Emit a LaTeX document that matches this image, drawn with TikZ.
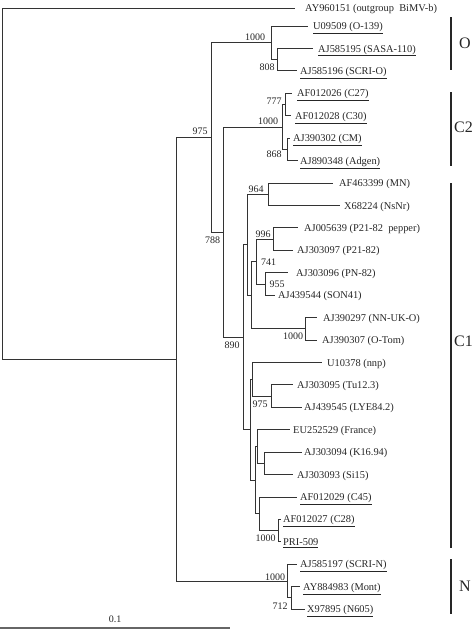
\documentclass[tikz,border=0pt]{standalone}
\usepackage{fontspec}
\setmainfont{Liberation Serif}
\begin{document}
\begin{tikzpicture}[x=1pt,y=-1pt,
  br/.style={draw=black!80,line width=0.8pt},
  lf/.style={anchor=base west,inner sep=0pt,font=\fontsize{10.4}{12}\selectfont,text=black!85},
  bs/.style={inner sep=0pt,font=\fontsize{10}{12}\selectfont,text=black!85},
  cl/.style={inner sep=0pt,font=\fontsize{16}{19}\selectfont,text=black!85},
  cbar/.style={draw=black!85,line width=1.6pt},
  sbar/.style={draw=black!60,line width=1.5pt}]
\useasboundingbox (0,0) rectangle (474,629);
% internal nodes
\coordinate (r0) at (2,183.6);
\coordinate (ing) at (176,359.2);
\coordinate (n975) at (211,137.4);
\coordinate (nO) at (271,42.8);
\coordinate (n808) at (277,59.6);
\coordinate (n788) at (223,232);
\coordinate (nC2) at (282,126.9);
\coordinate (n777) at (285,104.5);
\coordinate (n868) at (287,149.3);
\coordinate (n890) at (243,337.2);
\coordinate (na) at (247,244.6);
\coordinate (n964) at (268,194.2);
\coordinate (nb) at (251,295);
\coordinate (n741) at (256,261.4);
\coordinate (n996) at (273,239);
\coordinate (n955) at (265,283.9);
\coordinate (nT) at (305,328.7);
\coordinate (nd) at (250,429.7);
\coordinate (ne) at (252,379.2);
\coordinate (n975b) at (271,396);
\coordinate (nh) at (255,480.2);
\coordinate (nf) at (257,446.6);
\coordinate (nK) at (264,463.3);
\coordinate (ng) at (259,513.7);
\coordinate (nP) at (278,530.55);
\coordinate (nN) at (287,581);
\coordinate (n712) at (291,597.8);
% tips
\coordinate (t0) at (295,8);
\coordinate (t1) at (308,26);
\coordinate (t2) at (313,48.4);
\coordinate (t3) at (297,70.8);
\coordinate (t4) at (292,93.3);
\coordinate (t5) at (291,115.7);
\coordinate (t6) at (290,138.1);
\coordinate (t7) at (298,160.5);
\coordinate (t8) at (333,183);
\coordinate (t9) at (340,205.4);
\coordinate (t10) at (298,227.8);
\coordinate (t11) at (293,250.2);
\coordinate (t12) at (288,272.7);
\coordinate (t13) at (275,295.1);
\coordinate (t14) at (317,317.5);
\coordinate (t15) at (317,339.9);
\coordinate (t16) at (322,362.4);
\coordinate (t17) at (293,384.8);
\coordinate (t18) at (302,407.2);
\coordinate (t19) at (290,429.6);
\coordinate (t20) at (302,452.1);
\coordinate (t21) at (293,474.5);
\coordinate (t22) at (297,496.9);
\coordinate (t23) at (281,519.3);
\coordinate (t24) at (281,541.8);
\coordinate (t25) at (297,564.2);
\coordinate (t26) at (300,586.6);
\coordinate (t27) at (305,609);
% branches
\draw[br] (r0) |- (t0); \draw[br] (r0) |- (ing);
\draw[br] (ing) |- (n975); \draw[br] (ing) |- (nN);
\draw[br] (n975) |- (nO); \draw[br] (n975) |- (n788);
\draw[br] (nO) |- (t1); \draw[br] (nO) |- (n808);
\draw[br] (n808) |- (t2); \draw[br] (n808) |- (t3);
\draw[br] (n788) |- (nC2); \draw[br] (n788) |- (n890);
\draw[br] (nC2) |- (n777); \draw[br] (nC2) |- (n868);
\draw[br] (n777) |- (t4); \draw[br] (n777) |- (t5);
\draw[br] (n868) |- (t6); \draw[br] (n868) |- (t7);
\draw[br] (n890) |- (na); \draw[br] (n890) |- (nd);
\draw[br] (na) |- (n964); \draw[br] (na) |- (nb);
\draw[br] (n964) |- (t8); \draw[br] (n964) |- (t9);
\draw[br] (nb) |- (n741); \draw[br] (nb) |- (nT);
\draw[br] (n741) |- (n996); \draw[br] (n741) |- (n955);
\draw[br] (n996) |- (t10); \draw[br] (n996) |- (t11);
\draw[br] (n955) |- (t12); \draw[br] (n955) |- (t13);
\draw[br] (nT) |- (t14); \draw[br] (nT) |- (t15);
\draw[br] (nd) |- (ne); \draw[br] (nd) |- (nh);
\draw[br] (ne) |- (t16); \draw[br] (ne) |- (n975b);
\draw[br] (n975b) |- (t17); \draw[br] (n975b) |- (t18);
\draw[br] (nh) |- (nf); \draw[br] (nh) |- (ng);
\draw[br] (nf) |- (t19); \draw[br] (nf) |- (nK);
\draw[br] (nK) |- (t20); \draw[br] (nK) |- (t21);
\draw[br] (ng) |- (t22); \draw[br] (ng) |- (nP);
\draw[br] (nP) |- (t23); \draw[br] (nP) |- (t24);
\draw[br] (nN) |- (t25); \draw[br] (nN) |- (n712);
\draw[br] (n712) |- (t26); \draw[br] (n712) |- (t27);
% leaf labels
\node[lf] (L0) at (305,11.6) {AY960151 (outgroup\hspace{0.5em}BiMV-b)};
\node[lf] (L1) at (313,29.6) {\underline{U09509 (O-139)}};
\node[lf] (L2) at (318,52) {\underline{AJ585195 (SASA-110)}};
\node[lf] (L3) at (300,74.4) {\underline{AJ585196 (SCRI-O)}};
\node[lf] (L4) at (297,96.9) {\underline{AF012026 (C27)}};
\node[lf] (L5) at (295,119.3) {\underline{AF012028 (C30)}};
\node[lf] (L6) at (293,141.7) {\underline{AJ390302 (CM)}};
\node[lf] (L7) at (300,164.1) {\underline{AJ890348 (Adgen)}};
\node[lf] (L8) at (339,186.6) {AF463399 (MN)};
\node[lf] (L9) at (344,209) {X68224 (NsNr)};
\node[lf] (L10) at (304,231.4) {AJ005639 (P21-82\hspace{0.5em}pepper)};
\node[lf] (L11) at (297,253.8) {AJ303097 (P21-82)};
\node[lf] (L12) at (296,276.3) {AJ303096 (PN-82)};
\node[lf] (L13) at (278,298.7) {AJ439544 (SON41)};
\node[lf] (L14) at (323,321.1) {AJ390297 (NN-UK-O)};
\node[lf] (L15) at (322,343.5) {AJ390307 (O-Tom)};
\node[lf] (L16) at (327,366) {U10378 (nnp)};
\node[lf] (L17) at (297,388.4) {AJ303095 (Tu12.3)};
\node[lf] (L18) at (304,410.8) {AJ439545 (LYE84.2)};
\node[lf] (L19) at (293,433.2) {EU252529 (France)};
\node[lf] (L20) at (304,455.7) {AJ303094 (K16.94)};
\node[lf] (L21) at (297,478.1) {AJ303093 (Si15)};
\node[lf] (L22) at (300,500.5) {\underline{AF012029 (C45)}};
\node[lf] (L23) at (283,522.9) {\underline{AF012027 (C28)}};
\node[lf] (L24) at (283,545.4) {\underline{PRI-509}};
\node[lf] (L25) at (300,567.8) {\underline{AJ585197 (SCRI-N)}};
\node[lf] (L26) at (303,590.2) {\underline{AY884983 (Mont)}};
\node[lf] (L27) at (307,612.6) {\underline{X97895 (N605)}};
% bootstrap values
\node[bs] (b1) at (255,37.5) {1000};
\node[bs] (b2) at (267,67) {808};
\node[bs] (b3) at (274,101) {777};
\node[bs] (b4) at (268,121.5) {1000};
\node[bs] (b5) at (274,154) {868};
\node[bs] (b6) at (200,131.5) {975};
\node[bs] (b7) at (256,189) {964};
\node[bs] (b8) at (212.5,240) {788};
\node[bs] (b9) at (263,234) {996};
\node[bs] (b10) at (268.5,262) {741};
\node[bs] (b11) at (277,284) {955};
\node[bs] (b12) at (293,336) {1000};
\node[bs] (b13) at (232,345.5) {890};
\node[bs] (b14) at (260,404) {975};
\node[bs] (b15) at (265.5,538) {1000};
\node[bs] (b16) at (275,577) {1000};
\node[bs] (b17) at (280,606) {712};
% clade bars
\coordinate (oT) at (451,17); \coordinate (oB) at (451,70);
\coordinate (c2T) at (451,92); \coordinate (c2B) at (451,166);
\coordinate (c1T) at (451,183); \coordinate (c1B) at (451,548);
\coordinate (nT2) at (451,559); \coordinate (nB2) at (451,614);
\draw[cbar] (oT) -- (oB);
\draw[cbar] (c2T) -- (c2B);
\draw[cbar] (c1T) -- (c1B);
\draw[cbar] (nT2) -- (nB2);
\node[cl,anchor=west] (kO) at (459,43) {O};
\node[cl,anchor=west] (kC2) at (454,127) {C2};
\node[cl,anchor=west] (kC1) at (454,341) {C1};
\node[cl,anchor=west] (kN) at (459,586) {N};
% scale bar
\coordinate (sL) at (0,628); \coordinate (sR) at (230,628);
\draw[sbar] (sL) -- (sR);
\node[bs] (sl) at (115,619) {0.1};
\end{tikzpicture}
\end{document}
